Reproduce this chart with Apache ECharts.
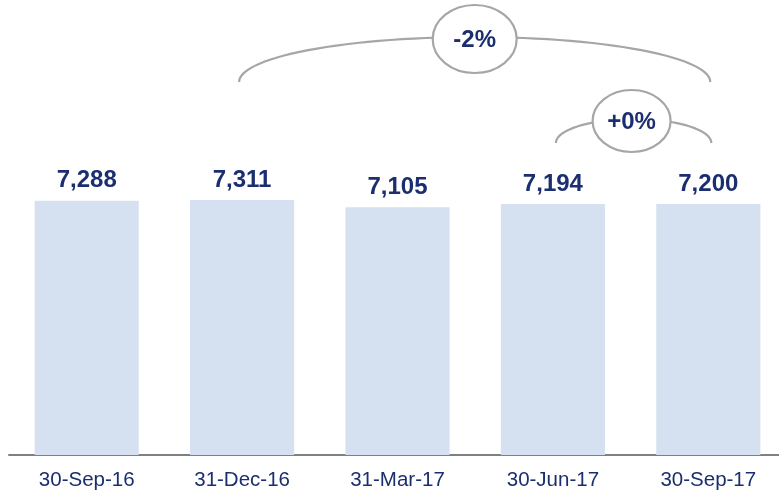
<!DOCTYPE html>
<html><head><meta charset="utf-8">
<script src="https://cdn.jsdelivr.net/npm/echarts@6/dist/echarts.min.js"></script>
<style>html,body{margin:0;padding:0;background:#fff}#c{width:779px;height:494px}</style>
</head><body><div id="c"></div>
<script>
const categories = ['30-Sep-16','31-Dec-16','31-Mar-17','30-Jun-17','30-Sep-17'];
const values = [7288, 7311, 7105, 7194, 7200];
const changes = [
  {from: 1, to: 4, text: '-2%'},
  {from: 3, to: 4, text: '+0%'}
];
const navy = '#1b2e70';
const chart = echarts.init(document.getElementById('c'));
chart.setOption({
  animation: false,
  grid: {left: 9, top: 176, width: 777, bottom: 39, containLabel: false, outerBoundsMode: 'none'},
  xAxis: {
    type: 'category', data: categories,
    axisLine: {lineStyle: {color: '#808080', width: 2}},
    axisTick: {show: false},
    axisLabel: {color: navy, fontFamily: 'Liberation Sans, Arial', fontSize: 20.5, margin: 15}
  },
  yAxis: {type: 'value', min: 0, max: 8000, show: false, splitLine: {show: false}},
  series: [{
    type: 'bar', data: values, barCategoryGap: '33%',
    itemStyle: {color: '#d5e1f0'},
    label: {show: true, position: 'top', distance: 8, color: navy, fontWeight: 'bold',
      fontFamily: 'Liberation Sans, Arial', fontSize: 24,
      formatter: p => p.value.toLocaleString('en-US')}
  }]
});
const px = i => chart.convertToPixel({xAxisIndex: 0}, categories[i]);
const g = [];
const specs = [
  {baseY: 82, ry: 45, erx: 42, ery: 34, ecy: 39, dx: 0, o1: -3, o2: 2},
  {baseY: 143, ry: 24, erx: 39, ery: 31, ecy: 121, dx: -2, o1: 3, o2: 3}
];
changes.forEach((c, k) => {
  const s = specs[k];
  const x1 = px(c.from) + s.o1, x2 = px(c.to) + s.o2;
  const rx = (x2 - x1) / 2, cx = (x1 + x2) / 2;
  const pts = [];
  for (let t = 0; t <= 60; t++) {
    const a = Math.PI - Math.PI * t / 60;
    pts.push([cx + rx * Math.cos(a), s.baseY - s.ry * Math.sin(a)]);
  }
  g.push({type: 'polyline', shape: {points: pts},
    style: {fill: null, stroke: '#a6a6a6', lineWidth: 2.2}});
  g.push({type: 'ellipse', shape: {cx: cx + s.dx, cy: s.ecy, rx: s.erx, ry: s.ery},
    style: {fill: '#fff', stroke: '#a6a6a6', lineWidth: 2.2}, z: 10});
  g.push({type: 'text', x: cx + s.dx, y: s.ecy + 1, z: 11,
    style: {text: c.text, fill: navy, font: 'bold 24px "Liberation Sans", Arial', align: 'center', verticalAlign: 'middle'}});
});
chart.setOption({graphic: g});
</script></body></html>
